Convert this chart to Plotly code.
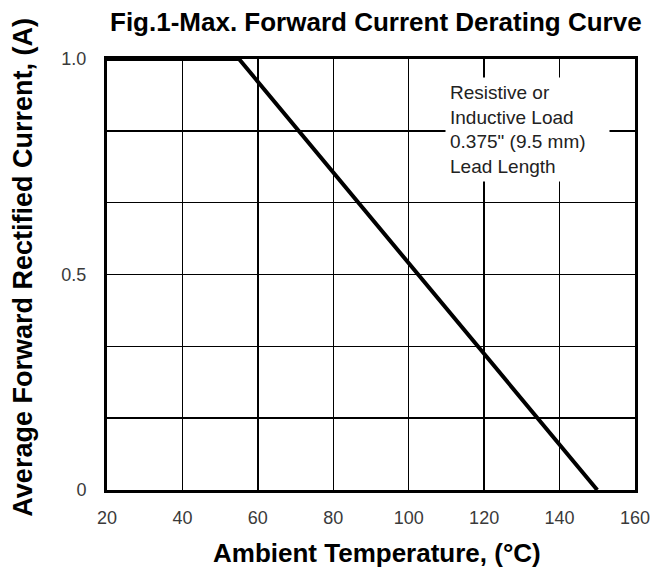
import plotly.graph_objects as go

# Data
temperature = [20, 55, 150]          # Ambient temperature, °C
current = [1.0, 1.0, 0.0]            # Average forward rectified current, A

x_ticks = [20, 40, 60, 80, 100, 120, 140, 160]
y_ticks = [0, 0.5, 1.0]
y_tick_labels = ["0", "0.5", "1.0"]
y_grid = [1/6, 2/6, 4/6, 5/6]

title_text = "Fig.1-Max. Forward Current Derating Curve"
x_title = "Ambient Temperature, (°C)"
y_title = "Average Forward Rectified Current, (A)"
note_text = "Resistive or<br>Inductive Load<br>0.375\" (9.5 mm)<br>Lead Length"

FONT = "Liberation Sans, Arial, sans-serif"

fig = go.Figure()
fig.add_trace(go.Scatter(
    x=temperature, y=current, mode="lines",
    line=dict(color="black", width=4),
    cliponaxis=False, showlegend=False, hoverinfo="skip",
))

fig.update_layout(
    width=662, height=569,
    margin=dict(l=107, r=21, t=59, b=79, pad=0),
    paper_bgcolor="white", plot_bgcolor="white",
    font=dict(family=FONT, color="#333333", size=18),
    xaxis=dict(
        range=[20, 160], tickvals=x_ticks, ticktext=[str(v) for v in x_ticks],
        showgrid=True, gridcolor="black", gridwidth=1.5,
        showline=True, linecolor="black", linewidth=3, mirror=True,
        ticks="outside", ticklen=9, tickcolor="rgba(0,0,0,0)",
        zeroline=False, fixedrange=True,
        tickfont=dict(size=18, color="#3a3a3a", family=FONT),
    ),
    yaxis=dict(
        range=[0, 1.0], tickvals=y_ticks, ticktext=y_tick_labels,
        showgrid=True, gridcolor="black", gridwidth=1.5,
        minor=dict(tickvals=y_grid, showgrid=True, gridcolor="black", gridwidth=1.5, ticks=""),
        showline=True, linecolor="black", linewidth=3, mirror=True,
        ticks="outside", ticklen=14, tickcolor="rgba(0,0,0,0)",
        zeroline=False, fixedrange=True,
        tickfont=dict(size=18, color="#3a3a3a", family=FONT),
    ),
)

fig.add_annotation(
    text="<b>" + title_text + "</b>", xref="paper", yref="paper",
    x=0.510, y=1.0858, xanchor="center", yanchor="middle", showarrow=False,
    font=dict(size=26, color="black", family=FONT),
)
fig.add_annotation(
    text="<b>" + x_title + "</b>", xref="paper", yref="paper",
    x=0.511, y=-0.1833, xanchor="center", yanchor="bottom", showarrow=False,
    borderpad=0,
    font=dict(size=26, color="black", family=FONT),
)
fig.add_annotation(
    text="<b>" + y_title + "</b>", xref="paper", yref="paper",
    x=-0.159, y=0.516, xanchor="center", yanchor="middle", showarrow=False,
    textangle=-90,
    font=dict(size=27, color="black", family=FONT),
)
fig.add_annotation(
    text=note_text, xref="x", yref="y",
    x=131.4, y=0.836, xanchor="center", yanchor="middle", showarrow=False,
    align="left", bgcolor="white", borderpad=4, width=155,
    font=dict(size=19, color="#222222", family=FONT),
)

fig.write_html(
    "out.html",
    config={"displayModeBar": False, "staticPlot": True},
    post_script="document.body.style.margin='0px';document.body.style.overflow='hidden';",
)
